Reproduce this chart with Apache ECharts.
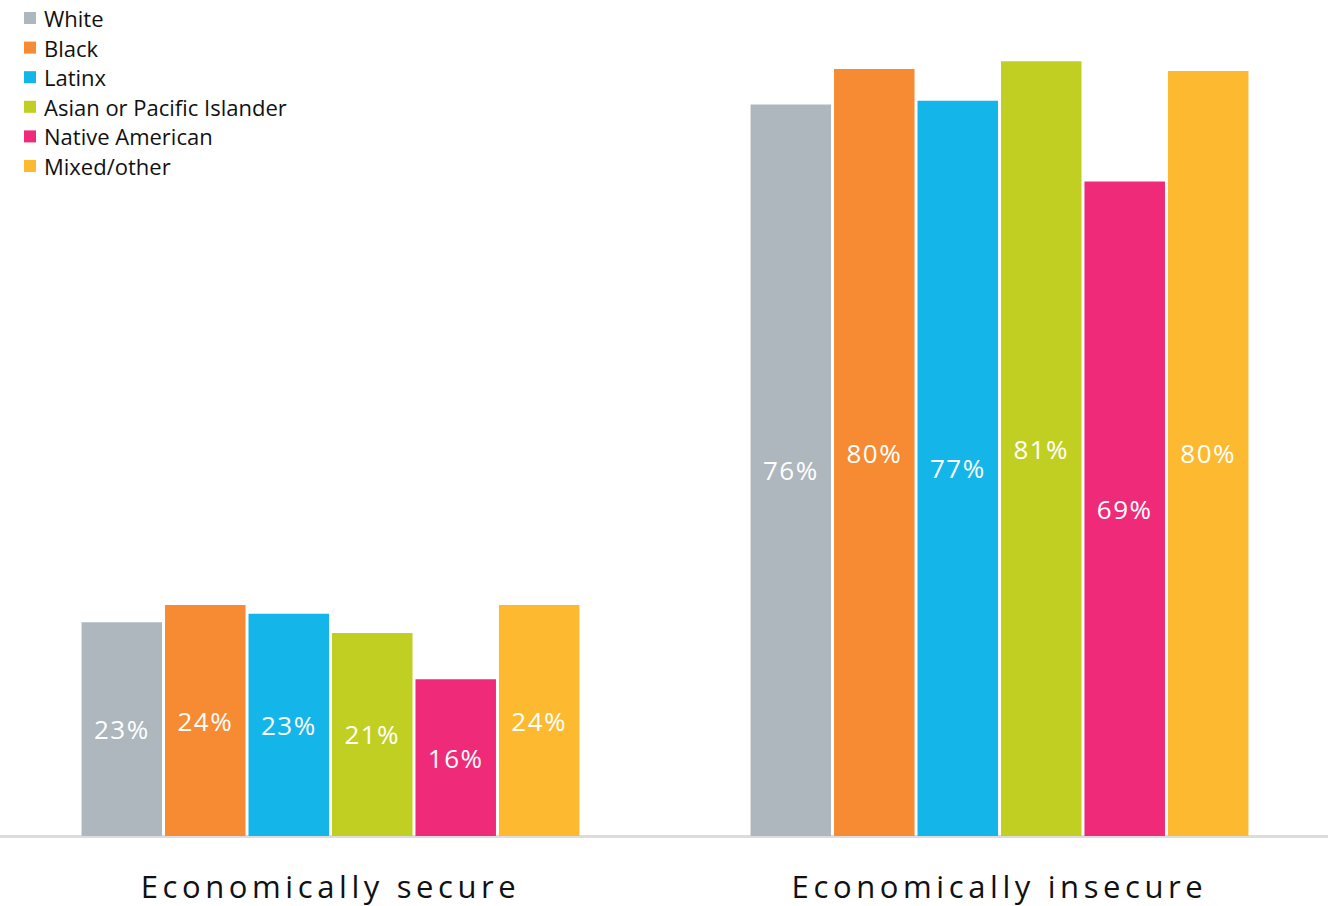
<!DOCTYPE html>
<html><head><meta charset="utf-8">
<script src="https://cdn.jsdelivr.net/npm/echarts@6/dist/echarts.min.js"></script>
<style>
html,body{margin:0;padding:0;background:#fff;overflow:hidden;width:1328px;height:906px;}
#c{position:absolute;left:-4px;top:0;width:1338px;height:906px;}
#c text[style*="31px"], #c text[font-size="31"]{letter-spacing:4.6px;}
#c text[style*="26px"], #c text[font-size="26"]{letter-spacing:1.5px;}
</style>
</head><body><div id="c"></div>
<script>
const categories = ['Economically secure', 'Economically insecure'];
const groups = ['White', 'Black', 'Latinx', 'Asian or Pacific Islander', 'Native American', 'Mixed/other'];
const colors = ['#ADB7BD', '#F68B33', '#14B5E8', '#C1CF22', '#EF2A79', '#FDB930'];
// bar heights (%)
const values = [
  [22.2, 76.0],
  [24.0, 79.7],
  [23.1, 76.4],
  [21.1, 80.5],
  [16.3, 68.0],
  [24.0, 79.5]
];
// printed labels
const labels = [
  ['23%', '76%'],
  ['24%', '80%'],
  ['23%', '77%'],
  ['21%', '81%'],
  ['16%', '69%'],
  ['24%', '80%']
];
const chart = echarts.init(document.getElementById('c'), null, {renderer: 'svg'});
const FONT = '"Open Sans", "Noto Sans", sans-serif';
chart.setOption({
  animation: false,
  textStyle: {fontFamily: FONT},
  legend: {
    orient: 'vertical', left: 23, top: 2,
    itemWidth: 12, itemHeight: 12, itemGap: 7.6,
    icon: 'rect',
    textStyle: {fontSize: 22, color: '#111', fontFamily: FONT, padding: [0, 0, 0, 3]},
    data: groups
  },
  grid: {left: 0, right: 0, top: 18, bottom: 70, containLabel: false},
  xAxis: {
    type: 'category', data: categories,
    axisLine: {show: true, lineStyle: {color: '#DCDCDC', width: 3}},
    axisTick: {show: false},
    axisLabel: {fontSize: 31, color: '#111', margin: 34, fontFamily: FONT}
  },
  yAxis: {type: 'value', min: 0, max: 85, show: false, splitLine: {show: false}},
  series: groups.map((g, i) => ({
    name: g, type: 'bar',
    barWidth: 80.5, barGap: '3.7%',
    itemStyle: {color: colors[i]},
    label: {
      show: true, position: 'inside', color: '#fff', fontSize: 26, fontFamily: FONT,
      formatter: p => labels[i][p.dataIndex]
    },
    data: values[i]
  }))
});
</script></body></html>
